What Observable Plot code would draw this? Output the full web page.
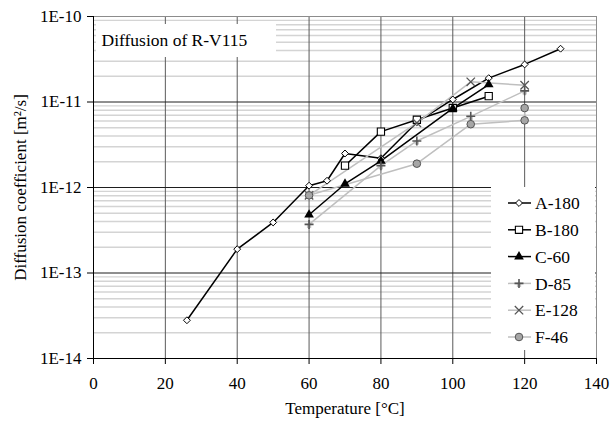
<!DOCTYPE html>
<html><head><meta charset="utf-8">
<script src="https://cdn.jsdelivr.net/npm/d3@7"></script>
<script src="https://cdn.jsdelivr.net/npm/@observablehq/plot@0.6"></script>
<style>
body{margin:0;background:#fff;}
#chart{position:relative;width:610px;height:424px;}
#chart svg, #chart svg text{font-family:'Liberation Serif','Times New Roman',serif !important;}
</style></head><body><div id="chart"></div>
<script>
// ---- data ----
const seriesNames = ["A-180","B-180","C-60","D-85","E-128","F-46"];
const tempA = [26, 40, 50, 60, 65, 70, 80, 90, 100, 110, 120, 130];
const diffA = [2.8e-14, 1.9e-13, 3.9e-13, 1.05e-12, 1.2e-12, 2.5e-12, 2.2e-12, 5.8e-12, 1.07e-11, 1.9e-11, 2.75e-11, 4.2e-11];
const tempB = [70, 80, 90, 100, 110];
const diffB = [1.8e-12, 4.5e-12, 6.2e-12, 8.5e-12, 1.17e-11];
const tempC = [60, 70, 80, 100, 110];
const diffC = [4.8e-13, 1.1e-12, 2.05e-12, 8.4e-12, 1.6e-11];
const tempD = [60, 80, 90, 105, 120];
const diffD = [3.7e-13, 1.8e-12, 3.5e-12, 6.8e-12, 1.35e-11];
const tempE = [60, 90, 105, 120];
const diffE = [8.1e-13, 5.7e-12, 1.72e-11, 1.57e-11];
const tempF = [60, 90, 105, 120, 120];
const diffF = [8.1e-13, 1.9e-12, 5.5e-12, 6.1e-12, 8.5e-12];

const xTicks = [0, 20, 40, 60, 80, 100, 120, 140];
const yDecades = [1e-14, 1e-13, 1e-12, 1e-11, 1e-10];
const titleText = "Diffusion of R-V115";
const xLabel = "Temperature [°C]";
const yLabel = "Diffusion coefficient [m²/s]";

// ---- styles ----
const FONT = "'Liberation Serif','Times New Roman',serif";
const styles = {
  "A-180": {line:"#000", symbol:"diamond2", fill:"#fff", stroke:"#000", r:3.1, sw:1},
  "B-180": {line:"#000", symbol:"square2", fill:"#fff", stroke:"#000", r:4.6, sw:1.1},
  "C-60":  {line:"#000", symbol:"triangle", fill:"#000", stroke:"none", r:3.6, sw:0},
  "D-85":  {line:"#bfbfbf", symbol:"plus", fill:"none", stroke:"#555", r:3.0, sw:1.6},
  "E-128": {line:"#bfbfbf", symbol:"times", fill:"none", stroke:"#555", r:3.9, sw:1.3},
  "F-46":  {line:"#bfbfbf", symbol:"circle", fill:"#a6a6a6", stroke:"#555", r:3.8, sw:1}
};
const temps = [tempA,tempB,tempC,tempD,tempE,tempF];
const diffs = [diffA,diffB,diffC,diffD,diffE,diffF];
const rowsBySeries = seriesNames.map((name,k) => temps[k].map((t,i)=>({series:name, t, v:diffs[k][i]})));

const minor = [];
yDecades.slice(0,-1).forEach(d => { for (let m=2;m<=9;m++) minor.push(d*m); });
const innerDecades = yDecades.slice(1,-1);
const innerX = xTicks.slice(1,-1);

const lineMarks = [], dotMarks = [];
seriesNames.forEach((name,k) => {
  const s = styles[name];
  lineMarks.push(Plot.line(rowsBySeries[k], {x:"t", y:"v", stroke:s.line, strokeWidth:1.5}));
  if (name === "D-85") dotMarks.push(Plot.dot(rowsBySeries[k], {x:"t", y:"v", symbol:"square", fill:"#c4c4c4", r:2.4, dy:1.5}));
  dotMarks.push(Plot.dot(rowsBySeries[k], {x:"t", y:"v", symbol:s.symbol, fill:s.fill, stroke:s.stroke, strokeWidth:s.sw, r:s.r}));
});

const chart = Plot.plot({
  width: 610, height: 424,
  marginLeft: 93, marginRight: 14, marginTop: 16, marginBottom: 66,
  style: {fontFamily: FONT, fontSize: "17px", color:"#000", background:"#fff"},
  x: {domain:[0,140]},
  y: {type:"log", domain:[1e-14,1e-10]},
  marks: [
    Plot.ruleY(minor, {stroke:"#d4d4d4", strokeWidth:1.4}),
    Plot.ruleX(innerX, {stroke:"#5a5a5a", strokeWidth:1}),
    Plot.ruleY(innerDecades, {stroke:"#1e1e1e", strokeWidth:1}),
    Plot.frame({stroke:"#8c8c8c"}),
    Plot.ruleX([0], {stroke:"#000"}),
    Plot.ruleY([1e-14], {stroke:"#000"}),
    Plot.axisX({ticks:xTicks, tickSize:6, tickPadding:12, tickFormat:d=>String(d), label:xLabel, labelAnchor:"center", labelOffset:55, labelArrow:"none", fontSize:17}),
    Plot.axisY({ticks:yDecades, tickSize:6, tickPadding:6, tickFormat:d=>"1E"+Math.round(Math.log10(d)), label:yLabel, labelAnchor:"center", labelOffset:80, labelArrow:"none", fontSize:17}),
    ...lineMarks,
    ...dotMarks
  ]
});
document.getElementById("chart").appendChild(chart);

// ---- title box and legend (layout overlays) ----
const svg = d3.select(chart);
const tg = svg.append("g");
tg.append("rect").attr("x",96).attr("y",24).attr("width",180).attr("height",33).attr("fill","#fff");
tg.append("text").attr("x",101.5).attr("y",46).attr("text-anchor","start").attr("font-family",FONT).attr("font-size",17.5).attr("fill","#000").text(titleText);

const lg = svg.append("g");
lg.append("rect").attr("x",491).attr("y",187).attr("width",104).attr("height",163).attr("fill","#fff");
seriesNames.forEach((name,k) => {
  const s = styles[name];
  const y = 203 + k*26.8;
  lg.append("line").attr("x1",508).attr("x2",531).attr("y1",y).attr("y2",y).attr("stroke",s.line).attr("stroke-width",1.5);
  if (name === "D-85") lg.append("path").attr("d", d3.symbol(d3.symbolSquare, Math.PI*2.4*2.4)()).attr("transform",`translate(519,${y+1.5})`).attr("fill","#c4c4c4");
  const sym = {diamond2:d3.symbolDiamond2, square2:d3.symbolSquare2, triangle:d3.symbolTriangle, plus:d3.symbolPlus, times:d3.symbolTimes, circle:d3.symbolCircle}[s.symbol];
  lg.append("path").attr("d", d3.symbol(sym, Math.PI*s.r*s.r)()).attr("transform",`translate(519,${y})`)
    .attr("fill",s.fill).attr("stroke",s.stroke).attr("stroke-width",s.sw);
  lg.append("text").attr("x",535).attr("y",y).attr("dy","0.35em").attr("text-anchor","start").attr("font-family",FONT).attr("font-size",17.5).attr("fill","#000").text(name);
});
</script></body></html>
